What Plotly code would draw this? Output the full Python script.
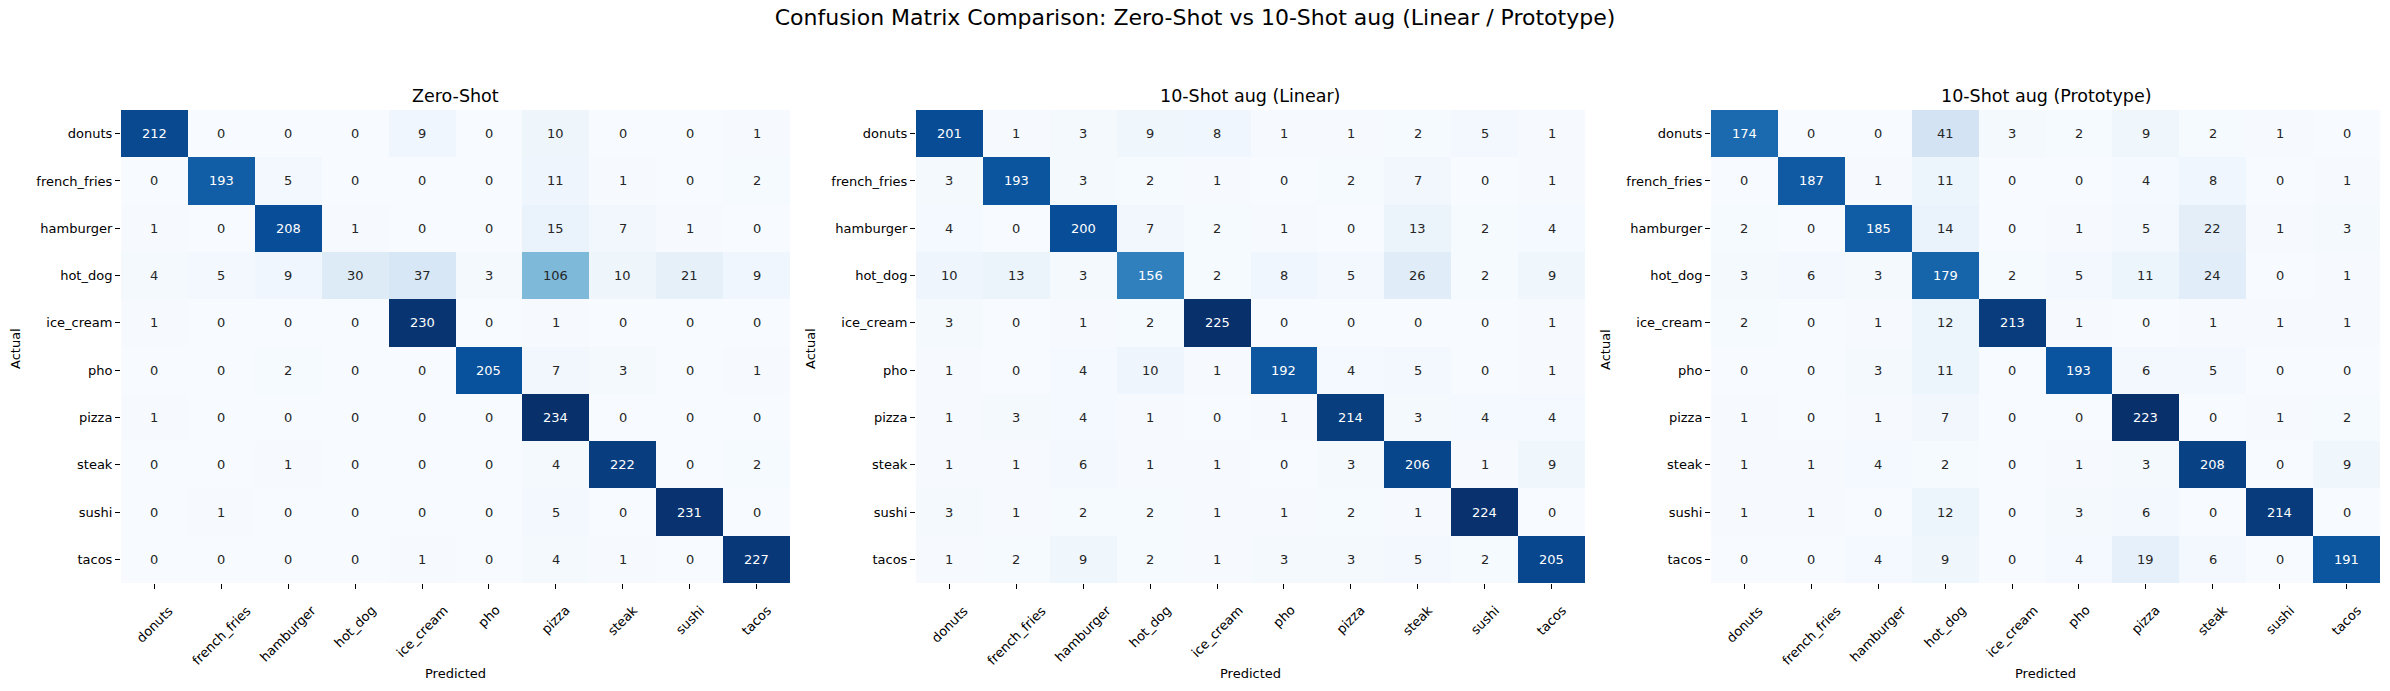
import plotly.graph_objects as go

classes = ["donuts", "french_fries", "hamburger", "hot_dog", "ice_cream",
           "pho", "pizza", "steak", "sushi", "tacos"]

zero_shot = [
    [212, 0, 0, 0, 9, 0, 10, 0, 0, 1],
    [0, 193, 5, 0, 0, 0, 11, 1, 0, 2],
    [1, 0, 208, 1, 0, 0, 15, 7, 1, 0],
    [4, 5, 9, 30, 37, 3, 106, 10, 21, 9],
    [1, 0, 0, 0, 230, 0, 1, 0, 0, 0],
    [0, 0, 2, 0, 0, 205, 7, 3, 0, 1],
    [1, 0, 0, 0, 0, 0, 234, 0, 0, 0],
    [0, 0, 1, 0, 0, 0, 4, 222, 0, 2],
    [0, 1, 0, 0, 0, 0, 5, 0, 231, 0],
    [0, 0, 0, 0, 1, 0, 4, 1, 0, 227],
]
linear_10shot = [
    [201, 1, 3, 9, 8, 1, 1, 2, 5, 1],
    [3, 193, 3, 2, 1, 0, 2, 7, 0, 1],
    [4, 0, 200, 7, 2, 1, 0, 13, 2, 4],
    [10, 13, 3, 156, 2, 8, 5, 26, 2, 9],
    [3, 0, 1, 2, 225, 0, 0, 0, 0, 1],
    [1, 0, 4, 10, 1, 192, 4, 5, 0, 1],
    [1, 3, 4, 1, 0, 1, 214, 3, 4, 4],
    [1, 1, 6, 1, 1, 0, 3, 206, 1, 9],
    [3, 1, 2, 2, 1, 1, 2, 1, 224, 0],
    [1, 2, 9, 2, 1, 3, 3, 5, 2, 205],
]
proto_10shot = [
    [174, 0, 0, 41, 3, 2, 9, 2, 1, 0],
    [0, 187, 1, 11, 0, 0, 4, 8, 0, 1],
    [2, 0, 185, 14, 0, 1, 5, 22, 1, 3],
    [3, 6, 3, 179, 2, 5, 11, 24, 0, 1],
    [2, 0, 1, 12, 213, 1, 0, 1, 1, 1],
    [0, 0, 3, 11, 0, 193, 6, 5, 0, 0],
    [1, 0, 1, 7, 0, 0, 223, 0, 1, 2],
    [1, 1, 4, 2, 0, 1, 3, 208, 0, 9],
    [1, 1, 0, 12, 0, 3, 6, 0, 214, 0],
    [0, 0, 4, 9, 0, 4, 19, 6, 0, 191],
]

panel_titles = ["Zero-Shot", "10-Shot aug (Linear)", "10-Shot aug (Prototype)"]
main_title = "Confusion Matrix Comparison: Zero-Shot vs 10-Shot aug (Linear / Prototype)"
matrices = [zero_shot, linear_10shot, proto_10shot]

# matplotlib "Blues"
blues = [
    (247, 251, 255), (222, 235, 247), (198, 219, 239), (158, 202, 225),
    (107, 174, 214), (66, 146, 198), (33, 113, 181), (8, 81, 156), (8, 48, 107),
]
colorscale = [[i / 8, "rgb(%d,%d,%d)" % c] for i, c in enumerate(blues)]


def cmap(f):
    f = min(max(f, 0.0), 1.0) * 8
    i = min(int(f), 7)
    t = f - i
    a, b = blues[i], blues[i + 1]
    return [(a[k] + (b[k] - a[k]) * t) / 255.0 for k in range(3)]


def lum(rgb):
    out = []
    for c in rgb:
        out.append(c / 12.92 if c <= 0.03928 else ((c + 0.055) / 1.055) ** 2.4)
    return 0.2126 * out[0] + 0.7152 * out[1] + 0.0722 * out[2]


W, H = 2390, 691
FONT = "DejaVu Sans"
x_doms = [(121, 790), (916, 1585), (1711, 2380)]
y_top, y_bot = 110, 583

fig = go.Figure()
annotations = []
layout_axes = {}

for p, (mat, ttl) in enumerate(zip(matrices, panel_titles)):
    idx = "" if p == 0 else str(p + 1)
    xa, ya = "x" + idx, "y" + idx
    zmax = max(max(r) for r in mat)
    zmin = min(min(r) for r in mat)
    fig.add_trace(go.Heatmap(
        z=mat, x=classes, y=classes, xaxis=xa, yaxis=ya,
        colorscale=colorscale, zmin=zmin, zmax=zmax, showscale=False,
        hoverinfo="skip",
    ))
    for i, row in enumerate(mat):
        for j, v in enumerate(row):
            col = cmap((v - zmin) / (zmax - zmin))
            tc = "#262626" if lum(col) > 0.408 else "white"
            annotations.append(dict(
                x=classes[j], y=classes[i], xref=xa, yref=ya, text=str(v),
                showarrow=False, font=dict(family=FONT, size=13, color=tc),
                xanchor="center", yanchor="middle",
            ))
    # rotated x tick labels (centre aligned like matplotlib)
    for c in classes:
        annotations.append(dict(
            x=c, y=1 - 600 / H, xref=xa, yref="paper", text=c, textangle=-45,
            showarrow=False, font=dict(family=FONT, size=13, color="black"),
            xanchor="center", yanchor="top",
        ))
    x0, x1 = x_doms[p]
    xc = (x0 + x1) / 2 / W
    annotations.append(dict(
        x=xc, y=1 - 96 / H, xref="paper", yref="paper", text=ttl,
        showarrow=False, font=dict(family=FONT, size=17.5, color="black"),
        xanchor="center", yanchor="middle",
    ))
    annotations.append(dict(
        x=xc, y=1 - 673 / H, xref="paper", yref="paper", text="Predicted",
        showarrow=False, font=dict(family=FONT, size=13, color="black"),
        xanchor="center", yanchor="middle",
    ))
    annotations.append(dict(
        x=(x0 - 106) / W, y=1 - 349 / H, xref="paper", yref="paper", text="Actual",
        textangle=-90, showarrow=False, font=dict(family=FONT, size=13, color="black"),
        xanchor="center", yanchor="middle",
    ))
    layout_axes["xaxis" + idx] = dict(
        domain=[x0 / W, x1 / W], anchor=ya, type="category",
        range=[-0.5, 9.5], showgrid=False, zeroline=False, showline=False,
        ticks="outside", ticklen=5, tickwidth=1, tickcolor="black",
        showticklabels=False, fixedrange=True,
    )
    layout_axes["yaxis" + idx] = dict(
        domain=[1 - y_bot / H, 1 - y_top / H], anchor=xa, type="category",
        range=[9.5, -0.5], showgrid=False, zeroline=False, showline=False,
        ticks="outside", ticklen=5, tickwidth=1, tickcolor="black",
        tickfont=dict(family=FONT, size=13, color="black"), fixedrange=True,
    )

fig.update_layout(
    width=W, height=H,
    margin=dict(l=0, r=0, t=0, b=0),
    paper_bgcolor="white", plot_bgcolor="white",
    title=dict(text=main_title, x=0.5, xanchor="center", y=1 - 17 / H,
               yanchor="middle", font=dict(family=FONT, size=22, color="black")),
    annotations=annotations,
    **layout_axes,
)

fig.write_html(
    "out.html",
    config={"displayModeBar": False},
    post_script="document.body.style.margin='0';document.body.style.padding='0';"
                "document.body.style.overflow='hidden';",
)
